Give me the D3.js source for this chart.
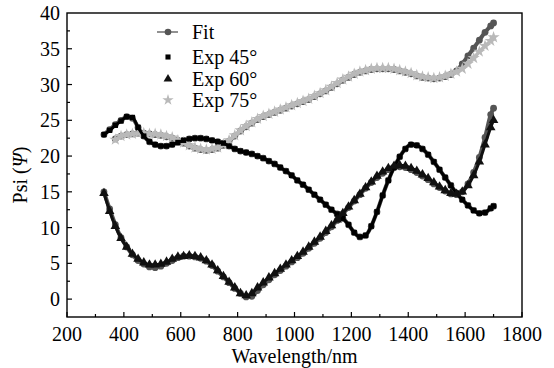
<!DOCTYPE html>
<html><head><meta charset="utf-8">
<script src="https://cdn.jsdelivr.net/npm/d3@7"></script>
<style>body{margin:0;background:#fff}svg{display:block}</style>
</head><body><svg id="c" width="554" height="368" font-family="'Liberation Serif', 'DejaVu Serif', serif"></svg>
<script>
const wavelength = [330,350,370,390,410,430,450,470,490,510,530,550,570,590,610,630,650,670,690,710,730,750,770,790,810,830,850,870,890,910,930,950,970,990,1010,1030,1050,1070,1090,1110,1130,1150,1170,1190,1210,1230,1250,1270,1290,1310,1330,1350,1370,1390,1410,1430,1450,1470,1490,1510,1530,1550,1570,1590,1610,1630,1650,1670,1690,1700];
const exp45 = [23.0,23.6,24.3,24.9,25.5,25.4,24.0,22.8,22.0,21.6,21.4,21.4,21.6,21.9,22.2,22.4,22.5,22.5,22.4,22.2,22.0,21.8,21.4,21.0,20.7,20.5,20.3,20.0,19.7,19.3,18.9,18.4,17.9,17.3,16.6,16.0,15.3,14.6,13.9,13.2,12.5,11.9,11.3,10.4,9.3,8.7,8.9,10.2,12.2,14.5,16.6,18.4,19.9,21.0,21.6,21.5,21.0,20.2,19.2,18.1,17.0,15.9,14.8,13.9,13.1,12.4,12.0,12.1,12.7,13.0];
const fit45 = [23.0,23.7,24.4,25.0,25.5,25.3,24.0,22.8,22.0,21.6,21.4,21.4,21.6,21.9,22.2,22.4,22.5,22.5,22.4,22.2,22.0,21.8,21.4,21.0,20.7,20.5,20.3,20.0,19.7,19.3,18.9,18.4,17.9,17.3,16.6,16.0,15.3,14.6,13.9,13.2,12.5,11.9,11.3,10.4,9.3,8.7,8.9,10.2,12.2,14.5,16.6,18.4,19.9,21.0,21.6,21.5,21.0,20.2,19.2,18.1,17.0,15.9,14.8,13.9,13.1,12.4,12.0,12.1,12.7,13.0];
const exp60 = [14.8,12.3,10.2,8.5,7.3,6.3,5.6,5.1,4.8,4.8,4.9,5.2,5.6,5.9,6.0,6.1,6.0,5.8,5.4,4.8,4.0,3.2,2.4,1.6,0.8,0.5,0.8,1.6,2.3,3.0,3.6,4.2,4.8,5.4,6.0,6.6,7.3,8.0,8.7,9.5,10.3,11.1,12.0,12.9,13.8,14.7,15.6,16.4,17.2,17.8,18.3,18.6,18.7,18.6,18.3,17.9,17.4,16.9,16.3,15.7,15.2,14.8,14.7,15.0,15.9,17.3,19.2,21.6,24.0,25.0];
const fit60 = [15.0,12.6,10.4,8.6,7.3,6.2,5.4,4.9,4.5,4.4,4.6,5.0,5.4,5.8,6.0,6.0,5.9,5.7,5.3,4.7,3.9,3.1,2.3,1.5,0.8,0.3,0.4,1.2,2.0,2.7,3.4,4.0,4.6,5.2,5.8,6.4,7.1,7.8,8.5,9.3,10.1,11.0,11.9,12.8,13.7,14.6,15.5,16.3,17.0,17.6,18.1,18.4,18.5,18.4,18.1,17.7,17.2,16.7,16.1,15.6,15.1,14.7,14.6,15.0,16.1,17.7,19.8,22.6,25.8,26.7];
const exp75 = [null,null,22.3,22.8,23.0,23.1,23.2,23.2,23.1,23.1,23.0,22.8,22.6,22.2,21.9,21.5,21.2,21.0,20.9,21.0,21.2,21.6,22.2,22.9,23.6,24.2,24.7,25.2,25.6,25.9,26.2,26.5,26.8,27.1,27.4,27.7,28.0,28.4,28.8,29.2,29.7,30.2,30.7,31.1,31.5,31.8,32.0,32.2,32.3,32.3,32.3,32.2,32.0,31.8,31.6,31.3,31.1,31.0,30.9,31.0,31.2,31.5,31.8,32.2,32.9,33.7,34.6,35.4,36.1,36.6];
const fit75 = [null,null,22.4,22.8,23.0,23.1,23.2,23.2,23.1,23.0,22.9,22.7,22.5,22.2,21.8,21.4,21.1,20.9,20.8,20.9,21.1,21.5,22.1,22.8,23.5,24.1,24.6,25.1,25.5,25.8,26.1,26.4,26.7,27.0,27.3,27.6,27.9,28.3,28.7,29.1,29.6,30.1,30.6,31.0,31.4,31.7,31.9,32.1,32.2,32.2,32.2,32.1,31.9,31.7,31.5,31.2,31.0,30.9,30.8,30.9,31.1,31.4,31.9,32.9,34.0,35.1,36.2,37.3,38.2,38.6];
const xTicks = [200,400,600,800,1000,1200,1400,1600,1800];
const yTicks = [0,5,10,15,20,25,30,35,40];
const legendLabels = ["Fit","Exp 45°","Exp 60°","Exp 75°"];

const svg = d3.select("#c");
const L=67, R=522, T=13, B=317;
const x = d3.scaleLinear().domain([200,1800]).range([L,R]);
const y = d3.scaleLinear().domain([-2.5,40]).range([B,T]);

const pts = arr => wavelength.map((w,i)=>({w, v:arr[i]})).filter(d=>d.v!=null);

const fitColor="#555555";
const line = d3.line().x(d=>x(d.w)).y(d=>y(d.v)).curve(d3.curveMonotoneX);

// fit curves
[fit45, fit60, fit75].forEach(f=>{
  const p = pts(f);
  svg.append("path").datum(p).attr("d",line).attr("fill","none").attr("stroke",fitColor).attr("stroke-width",4);
  svg.append("g").selectAll("circle").data(p).join("circle")
    .attr("cx",d=>x(d.w)).attr("cy",d=>y(d.v)).attr("r",3.4).attr("fill",fitColor);
});

function expSeries(arr, type, size, color, lw){
  const p = pts(arr);
  svg.append("path").datum(p).attr("d",line).attr("fill","none").attr("stroke",color).attr("stroke-width",lw);
  svg.append("g").selectAll("path").data(p).join("path")
    .attr("d", d3.symbol().type(type).size(size))
    .attr("transform",d=>`translate(${x(d.w)},${y(d.v)})`).attr("fill",color);
}
expSeries(exp75, d3.symbolStar, 46, "#b9b9b9", 3.5);
expSeries(exp45, d3.symbolSquare, 28, "#000", 3);
expSeries(exp60, d3.symbolTriangle, 40, "#111", 3);

// frame
svg.append("rect").attr("x",L).attr("y",T).attr("width",R-L).attr("height",B-T)
  .attr("fill","none").attr("stroke","#000").attr("stroke-width",1.4);

// x ticks
const gx = svg.append("g");
d3.range(200,1801,100).forEach(v=>{
  const major = v%200===0;
  gx.append("line").attr("x1",x(v)).attr("x2",x(v)).attr("y1",B).attr("y2",B-(major?5:3)).attr("stroke","#000").attr("stroke-width",1.2);
});
gx.selectAll("text").data(xTicks).join("text").attr("x",d=>x(d)).attr("y",341)
  .attr("text-anchor","middle").attr("font-size",20).text(d=>d);
// y ticks
const gy = svg.append("g");
d3.range(-2.5,40.01,2.5).forEach(v=>{
  if (v<=-2.5 || v>=40) return;
  const major = v%5===0;
  gy.append("line").attr("x1",L).attr("x2",L+(major?5:3)).attr("y1",y(v)).attr("y2",y(v)).attr("stroke","#000").attr("stroke-width",1.2);
});
gy.selectAll("text").data(yTicks).join("text").attr("x",60).attr("y",d=>y(d)+7)
  .attr("text-anchor","end").attr("font-size",20).text(d=>d);

// axis titles
svg.append("text").attr("x",(L+R)/2).attr("y",363).attr("text-anchor","middle").attr("font-size",20).text("Wavelength/nm");
const yt = svg.append("text").attr("transform",`translate(27,175) rotate(-90)`).attr("text-anchor","middle").attr("font-size",20);
yt.append("tspan").text("Psi (");
yt.append("tspan").attr("font-style","italic").text("Ψ");
yt.append("tspan").text(")");

// legend
const ly = [32,57,79,100];
const lg = svg.append("g");
lg.append("line").attr("x1",157).attr("x2",178).attr("y1",ly[0]).attr("y2",ly[0]).attr("stroke",fitColor).attr("stroke-width",1.3);
lg.append("circle").attr("cx",168).attr("cy",ly[0]).attr("r",3.3).attr("fill",fitColor);
lg.append("path").attr("d",d3.symbol().type(d3.symbolSquare).size(26)).attr("transform",`translate(168,${ly[1]})`).attr("fill","#000");
lg.append("path").attr("d",d3.symbol().type(d3.symbolTriangle).size(34)).attr("transform",`translate(168,${ly[2]})`).attr("fill","#111");
lg.append("path").attr("d",d3.symbol().type(d3.symbolStar).size(40)).attr("transform",`translate(168,${ly[3]})`).attr("fill","#b9b9b9");
lg.selectAll("text").data(legendLabels).join("text").attr("x",192).attr("y",(d,i)=>ly[i]+7)
  .attr("font-size",20).text(d=>d);
</script></body></html>
